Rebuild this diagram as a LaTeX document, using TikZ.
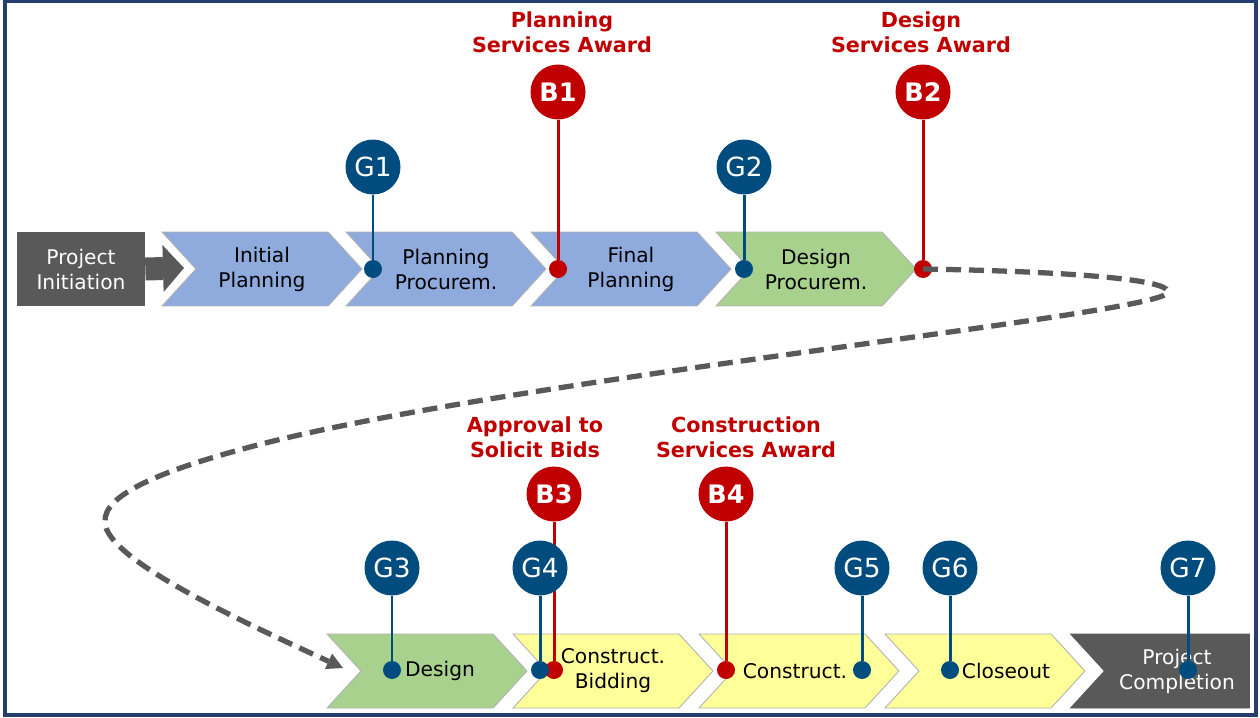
\documentclass[tikz,border=0pt]{standalone}
\usepackage{fontspec}
\setmainfont{DejaVu Sans}
\usetikzlibrary{shapes.symbols,arrows.meta}
\definecolor{phaseblue}{RGB}{143,170,220}
\definecolor{phasegreen}{RGB}{169,209,142}
\definecolor{phaseyellow}{RGB}{255,255,153}
\definecolor{phasegray}{RGB}{89,89,89}
\definecolor{gateblue}{RGB}{0,76,127}
\definecolor{boardred}{RGB}{192,0,0}
\definecolor{frameblue}{RGB}{38,62,110}
\tikzset{
  phase/.style={shape=signal, signal from=west, signal to=east, signal pointer angle=95,
    minimum width=4cm, minimum height=1.48cm, inner sep=0pt, draw=black!30, line width=0.5pt,
    align=center, font=\fontsize{11.5}{14.2}\selectfont},
  gate/.style={circle, fill=gateblue, minimum size=1.1cm, inner sep=0pt, text=white,
    font=\fontsize{15}{16}\selectfont},
  board/.style={circle, fill=boardred, minimum size=1.1cm, inner sep=0pt, text=white,
    font=\bfseries\fontsize{14.5}{16}\selectfont},
  gatedot/.style={circle, fill=gateblue, minimum size=0.36cm, inner sep=0pt},
  boarddot/.style={circle, fill=boardred, minimum size=0.36cm, inner sep=0pt},
  gatestem/.style={draw=gateblue, line width=1.7pt},
  boardstem/.style={draw=boardred, line width=1.7pt},
  awardlabel/.style={text=boardred, align=center, font=\bfseries\fontsize{11.8}{14.2}\selectfont},
  phasetext/.style={align=center, font=\fontsize{11.5}{14.2}\selectfont},
  loopline/.style={draw=phasegray, line width=3pt, dash pattern=on 0.3cm off 0.16cm,
    -{Triangle[length=0.32cm, width=0.34cm, line width=0pt]}},
}
\begin{document}
\begin{tikzpicture}[x=0.02cm, y=-0.02cm]
\useasboundingbox (0,0) rectangle (1260,717);
\draw[frameblue, line width=2pt] (5,1.5) rectangle (1256,715);

\node[fill=phasegray, text=white, minimum width=2.56cm, minimum height=1.48cm, inner sep=0pt,
  phasetext] (initiation) at (81,269) {Project\\Initiation};
\coordinate (inittip) at (184,268);
\draw[phasegray, line width=0.46cm, -{Triangle[length=0.42cm, width=0.94cm, line width=0pt]}]
  (initiation.east) -- (inittip);

\node[phase, fill=phaseblue] (initial) at (262,269) {Initial\\Planning};
\node[phase, fill=phaseblue] (planproc) at (446,269) {Planning\\Procurem.};
\node[phase, fill=phaseblue] (final) at (631,269) {Final\\Planning};
\node[phase, fill=phasegreen] (designproc) at (816,269) {Design\\Procurem.};

\node[phase, fill=phasegreen, label={[phasetext, xshift=0.26cm]center:Design}] (design) at (427,671) {};
\node[phase, fill=phaseyellow] (bidding) at (613,671) {Construct.\\Bidding};
\node[phase, fill=phaseyellow, label={[phasetext, xshift=-0.08cm]center:Construct.}] (construct) at (799,671) {};
\node[phase, fill=phaseyellow, label={[phasetext, xshift=0.42cm]center:Closeout}] (closeout) at (985,671) {};
\node[phase, signal to=nowhere, minimum width=3.58cm, fill=phasegray, draw=phasegray,
  text=white] (completion) at (1177,671) {Project\\Completion};

\node[awardlabel] (b1label) at (562,32) {Planning\\Services Award};
\node[awardlabel] (b2label) at (921,32) {Design\\Services Award};
\node[awardlabel] (b3label) at (535,437) {Approval to\\Solicit Bids};
\node[awardlabel] (b4label) at (746,437) {Construction\\Services Award};

\node[board] (b1) at (558,92) {B1};
\node[boarddot] (b1dot) at (558,269) {};
\draw[boardstem] (b1) -- (b1dot);
\node[board] (b2) at (923,92) {B2};
\node[boarddot] (b2dot) at (923,269) {};
\draw[boardstem] (b2) -- (b2dot);
\node[board] (b3) at (554,494) {B3};
\node[boarddot] (b3dot) at (554,670) {};
\draw[boardstem] (b3) -- (b3dot);
\node[board] (b4) at (726,494) {B4};
\node[boarddot] (b4dot) at (726,670) {};
\draw[boardstem] (b4) -- (b4dot);

\node[gate] (g1) at (373,167) {G1};
\node[gatedot] (g1dot) at (373,269) {};
\draw[gatestem] (g1) -- (g1dot);
\node[gate] (g2) at (744,167) {G2};
\node[gatedot] (g2dot) at (744,269) {};
\draw[gatestem] (g2) -- (g2dot);
\node[gate] (g3) at (392,568) {G3};
\node[gatedot] (g3dot) at (392,670) {};
\draw[gatestem] (g3) -- (g3dot);
\node[gate] (g4) at (540,568) {G4};
\node[gatedot] (g4dot) at (540,670) {};
\draw[gatestem] (g4) -- (g4dot);
\node[gate] (g5) at (862,568) {G5};
\node[gatedot] (g5dot) at (862,670) {};
\draw[gatestem] (g5) -- (g5dot);
\node[gate] (g6) at (950,568) {G6};
\node[gatedot] (g6dot) at (950,670) {};
\draw[gatestem] (g6) -- (g6dot);
\node[gate] (g7) at (1188,568) {G7};
\node[gatedot] (g7dot) at (1188,670) {};
\draw[gatestem] (g7) -- (g7dot);

\coordinate (designtip) at (343,668);
\draw[loopline] (b2dot.center) .. controls (1100,272) and (1175,282) .. (1167,293)
  .. controls (1155,315) and (500,380) .. (250,447)
  .. controls (160,471) and (103,495) .. (105,522)
  .. controls (105,560) and (250,625) .. (designtip);
\end{tikzpicture}
\end{document}
